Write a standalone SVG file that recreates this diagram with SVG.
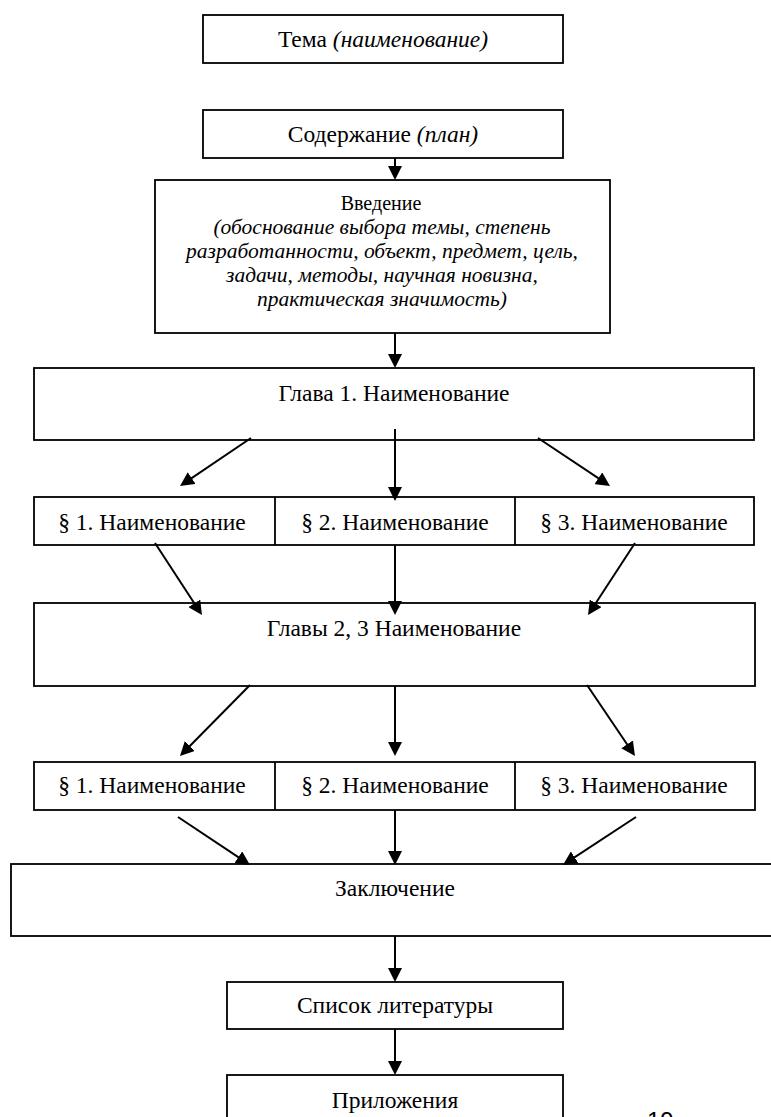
<svg xmlns="http://www.w3.org/2000/svg" width="771" height="1117" viewBox="0 0 771 1117">
<style>
.box{fill:#fff;stroke:#000;stroke-width:1.8}
.t{font-family:"Liberation Serif","Times New Roman",serif;font-size:23.5px;fill:#000;text-anchor:middle}
.i{font-style:italic}
.s{font-family:"Liberation Serif","Times New Roman",serif;font-size:20px;fill:#000;text-anchor:middle}
.si{font-family:"Liberation Serif","Times New Roman",serif;font-size:21.5px;font-style:italic;fill:#000;text-anchor:middle}
.c{stroke:#000;stroke-width:2;fill:none;marker-end:url(#ah)}
.pn{font-family:"Liberation Sans",Arial,sans-serif;font-size:24px;fill:#000}
</style>
<defs>
<marker id="ah" markerUnits="userSpaceOnUse" markerWidth="14" markerHeight="14" viewBox="0 0 14 14" refX="8" refY="7" orient="auto">
<path d="M0,0 L14,7 L0,14 z" fill="#000"/>
</marker>
</defs>
<g id="tema"><rect class="box" x="203" y="15" width="360" height="48"/><text class="t" x="383" y="47">Тема <tspan class="i">(наименование)</tspan></text></g>
<g id="soderzhanie"><rect class="box" x="203" y="110" width="360" height="48"/><text class="t" x="383" y="142">Содержание <tspan class="i">(план)</tspan></text></g>
<g id="vvedenie"><rect class="box" x="155" y="180" width="455" height="153"/>
<text class="s" x="381" y="210">Введение</text>
<text class="si" x="382" y="234">(обоснование выбора темы, степень</text>
<text class="si" x="382" y="258">разработанности, объект, предмет, цель,</text>
<text class="si" x="382" y="282">задачи, методы, научная новизна,</text>
<text class="si" x="382" y="306">практическая значимость)</text></g>
<g id="glava1"><rect class="box" x="34" y="368" width="720" height="72"/><text class="t" x="394" y="401">Глава 1. Наименование</text></g>
<g id="par1"><rect class="box" x="34" y="497" width="720" height="48"/><line x1="275" y1="497" x2="275" y2="545" stroke="#000" stroke-width="1.8"/><line x1="515" y1="497" x2="515" y2="545" stroke="#000" stroke-width="1.8"/>
<text class="t" x="152" y="530">§ 1. Наименование</text><text class="t" x="395" y="530">§ 2. Наименование</text><text class="t" x="634" y="530">§ 3. Наименование</text></g>
<g id="glava23"><rect class="box" x="34" y="603" width="721" height="83"/><text class="t" x="394" y="636">Главы 2, 3 Наименование</text></g>
<g id="par2"><rect class="box" x="34" y="762" width="721" height="48"/><line x1="275" y1="762" x2="275" y2="810" stroke="#000" stroke-width="1.8"/><line x1="515" y1="762" x2="515" y2="810" stroke="#000" stroke-width="1.8"/>
<text class="t" x="152" y="793">§ 1. Наименование</text><text class="t" x="395" y="793">§ 2. Наименование</text><text class="t" x="634" y="793">§ 3. Наименование</text></g>
<g id="zakl"><rect class="box" x="11" y="864" width="790" height="72"/><text class="t" x="395" y="896">Заключение</text></g>
<g id="spisok"><rect class="box" x="227" y="982" width="336" height="47"/><text class="t" x="395" y="1013">Список литературы</text></g>
<g id="prilozh"><rect class="box" x="227" y="1075" width="336" height="60"/><text class="t" x="395" y="1108">Приложения</text></g>
<g id="connectors">
<line class="c" x1="395" y1="158" x2="395" y2="174"/>
<line class="c" x1="395" y1="333" x2="395" y2="362"/>
<line class="c" x1="251" y1="438" x2="185" y2="482.6"/>
<line class="c" x1="395" y1="429" x2="395" y2="495"/>
<line class="c" x1="538" y1="438" x2="605" y2="482.7"/>
<line class="c" x1="155" y1="543" x2="198.7" y2="610"/>
<line class="c" x1="395" y1="545" x2="395" y2="609"/>
<line class="c" x1="635" y1="543" x2="591.3" y2="610"/>
<line class="c" x1="250" y1="685" x2="184.2" y2="751.7"/>
<line class="c" x1="395" y1="686" x2="395" y2="750"/>
<line class="c" x1="587" y1="685" x2="631.6" y2="751"/>
<line class="c" x1="178" y1="817" x2="245" y2="861.7"/>
<line class="c" x1="395" y1="810" x2="395" y2="859"/>
<line class="c" x1="636" y1="817" x2="568" y2="861.7"/>
<line class="c" x1="395" y1="936" x2="395" y2="976"/>
<line class="c" x1="395" y1="1029" x2="395" y2="1069"/>
</g>
<text class="pn" x="647" y="1129">19</text>
</svg>
